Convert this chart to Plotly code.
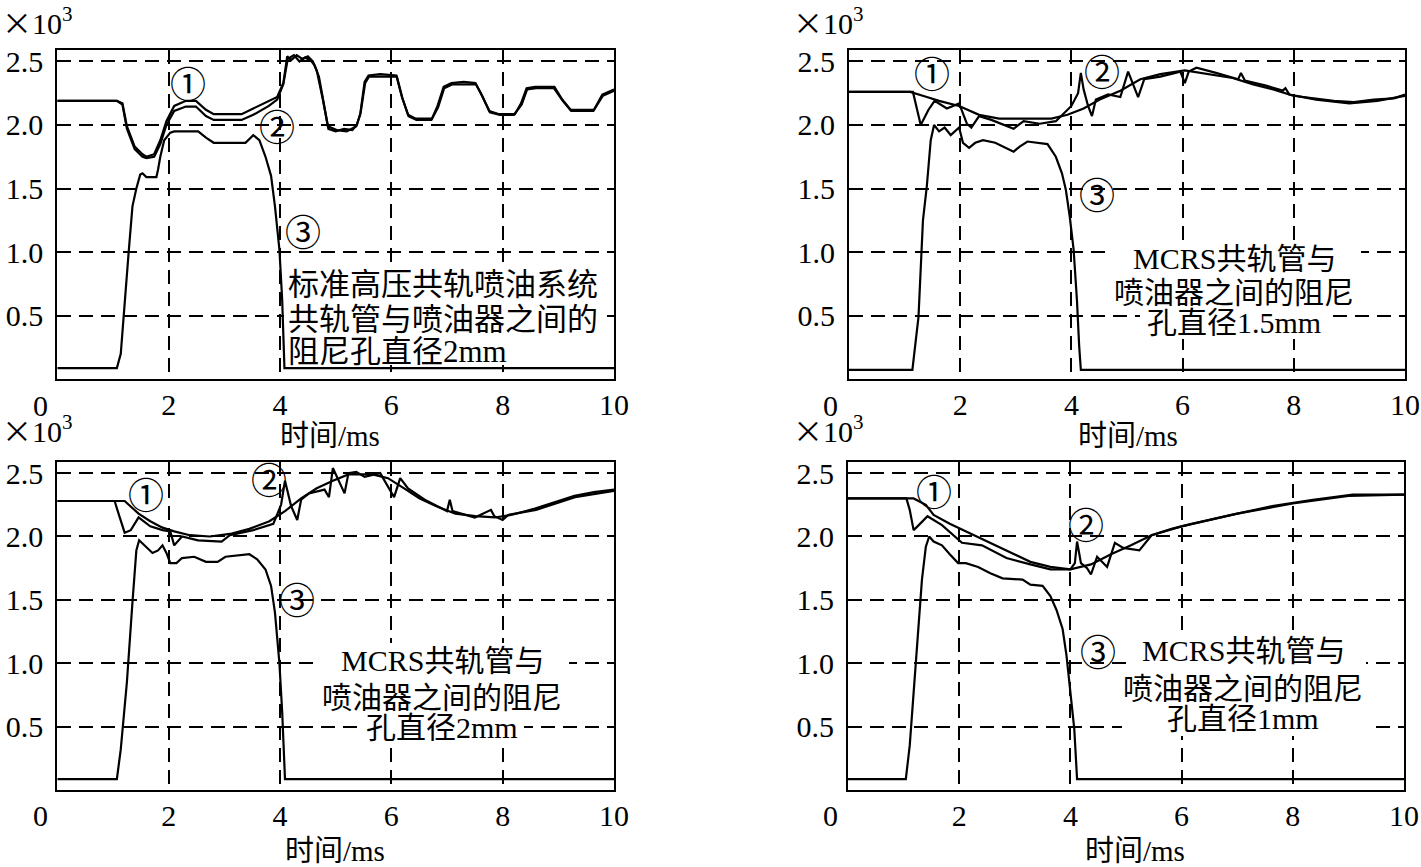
import plotly.graph_objects as go

W, H = 1421, 867

# ---------------- data (pressure ×10^3, time ms) ----------------
# Panel A: standard high-pressure common rail, orifice 2 mm
a1_x = [0, 1.07, 1.17, 1.25, 1.39, 1.53, 1.6, 1.74, 1.85, 1.96, 2.1, 2.31, 2.49, 2.67, 2.81, 3.31, 3.52, 3.8, 3.95,
        4.06, 4.13, 4.2, 4.3, 4.4, 4.5, 4.59, 4.66, 4.77, 4.86, 5.02, 5.2, 5.37, 5.44, 5.52, 5.59, 5.8, 6.09, 6.19,
        6.3, 6.44, 6.73, 6.83, 6.94, 7.08, 7.3, 7.51, 7.62, 7.76, 7.94, 8.22, 8.33, 8.43, 8.58, 8.93, 9.07, 9.22,
        9.64, 9.79, 10]
a1_y = [2.19, 2.19, 2.17, 1.99, 1.83, 1.77, 1.75, 1.77, 1.88, 2.03, 2.15, 2.19, 2.19, 2.12, 2.085, 2.085, 2.13, 2.185,
        2.22, 2.33, 2.54, 2.51, 2.55, 2.52, 2.54, 2.5, 2.43, 2.2, 1.99, 1.96, 1.95, 1.99, 2.08, 2.34, 2.39, 2.40, 2.39,
        2.22, 2.08, 2.05, 2.05, 2.15, 2.3, 2.33, 2.34, 2.33, 2.24, 2.11, 2.085, 2.085, 2.17, 2.29, 2.30, 2.30, 2.2,
        2.12, 2.12, 2.24, 2.28]
a2_x = [0, 1.07, 1.17, 1.25, 1.39, 1.53, 1.6, 1.74, 1.85, 1.96, 2.1, 2.31, 2.49, 2.67, 2.81, 3.31, 3.52, 3.8, 3.95,
        4.06, 4.14, 4.25, 4.35, 4.45, 4.55, 4.62, 4.7, 4.78, 4.87, 5.0, 5.15, 5.3, 5.38, 5.45, 5.53, 5.6, 6.1, 6.2,
        6.31, 6.45, 6.72, 6.84, 6.95, 7.1, 7.52, 7.63, 7.77, 7.95, 8.2, 8.34, 8.44, 8.6, 8.92, 9.08, 9.23, 9.63,
        9.8, 10]
a2_y = [2.19, 2.19, 2.16, 1.97, 1.81, 1.75, 1.74, 1.75, 1.85, 2.0, 2.11, 2.145, 2.145, 2.07, 2.04, 2.04, 2.08, 2.15,
        2.2, 2.32, 2.52, 2.55, 2.5, 2.53, 2.51, 2.47, 2.38, 2.18, 1.97, 1.95, 1.97, 1.96, 2.0, 2.1, 2.33, 2.38, 2.38,
        2.21, 2.07, 2.04, 2.04, 2.14, 2.29, 2.32, 2.32, 2.23, 2.1, 2.08, 2.08, 2.16, 2.28, 2.29, 2.29, 2.19, 2.11,
        2.11, 2.23, 2.27]
a3_x = [0, 1.07, 1.14, 1.21, 1.28, 1.35, 1.42, 1.49, 1.53, 1.6, 1.78, 1.81, 1.85, 1.92, 2.03, 2.1, 2.53, 2.67, 2.81,
        3.38, 3.52, 3.63, 3.74, 3.84, 3.91, 3.99, 4.04, 4.08, 10]
a3_y = [0.087, 0.087, 0.2, 0.62, 0.99, 1.36, 1.5, 1.61, 1.62, 1.59, 1.59, 1.65, 1.75, 1.88, 1.94, 1.95, 1.95, 1.9,
        1.86, 1.86, 1.92, 1.88, 1.75, 1.6, 1.36, 1.02, 0.62, 0.087, 0.087]

# Panel B: MCRS, orifice 1.5 mm
b1_x = [0, 1.1, 1.4, 1.62, 1.98, 2.34, 2.7, 3.28, 3.64, 3.93, 4.22, 4.51, 4.88, 5.24, 5.6, 6.04, 6.18, 6.54, 6.9,
        7.27, 7.63, 7.99, 8.36, 8.72, 9.08, 9.44, 9.8, 10]
b1_y = [2.26, 2.26, 2.22, 2.19, 2.15, 2.08, 2.05, 2.05, 2.05, 2.08, 2.13, 2.2, 2.27, 2.36, 2.4, 2.43, 2.42, 2.4, 2.37,
        2.32, 2.28, 2.23, 2.21, 2.19, 2.18, 2.2, 2.21, 2.24]
b2_x = [0, 1.15, 1.29, 1.43, 1.54, 1.76, 1.98, 2.12, 2.2, 2.34, 2.56, 2.96, 3.14, 3.43, 3.72, 4.0, 4.12, 4.17, 4.22,
        4.3, 4.37, 4.44, 4.66, 4.88, 5.02, 5.09, 5.2, 5.31, 5.6, 5.96, 6.04, 6.11, 6.25, 6.6, 7.0, 7.05, 7.12, 7.5,
        7.8, 7.85, 7.92, 8.4, 9.0, 9.5, 10]
b2_y = [2.26, 2.26, 2.0, 2.12, 2.19, 2.13, 2.17, 2.01, 1.98, 2.07, 2.04, 1.97, 2.03, 2.01, 2.03, 2.15, 2.25, 2.41,
        2.28, 2.15, 2.07, 2.2, 2.24, 2.22, 2.42, 2.34, 2.22, 2.36, 2.38, 2.42, 2.33, 2.42, 2.45, 2.41, 2.36, 2.41,
        2.35, 2.31, 2.27, 2.29, 2.24, 2.2, 2.17, 2.19, 2.23]
b3_x = [0, 1.14, 1.25, 1.33, 1.4, 1.47, 1.53, 1.62, 1.72, 1.83, 1.98, 2.05, 2.16, 2.27, 2.41, 2.63, 2.96, 3.07, 3.21,
        3.57, 3.72, 3.83, 3.9, 3.97, 4.04, 4.1, 4.14, 4.17, 10]
b3_y = [0.073, 0.073, 0.49, 1.25, 1.52, 1.88, 2.0, 1.95, 1.98, 1.92, 1.98, 1.86, 1.82, 1.86, 1.88, 1.86, 1.79, 1.83,
        1.87, 1.85, 1.75, 1.62, 1.49, 1.28, 1.02, 0.62, 0.26, 0.073, 0.073]

# Panel C: MCRS, orifice 2 mm
c1_x = [0, 1.21, 1.46, 1.67, 1.89, 2.1, 2.38, 2.74, 3.1, 3.45, 3.81, 4.09, 4.38, 4.66, 4.95, 5.23, 5.66, 5.94, 6.23,
        6.51, 6.8, 7.15, 7.51, 7.86, 8.15, 8.58, 8.93, 9.29, 9.64, 10]
c1_y = [2.28, 2.28, 2.18, 2.12, 2.07, 2.04, 2.01, 2.0, 2.02, 2.06, 2.12, 2.2, 2.3, 2.38, 2.44, 2.49, 2.49, 2.46, 2.38,
        2.3, 2.24, 2.18, 2.16, 2.15, 2.17, 2.22, 2.27, 2.32, 2.35, 2.37]
c2_x = [0, 1.03, 1.1, 1.21, 1.32, 1.46, 1.67, 1.89, 2.03, 2.1, 2.24, 2.53, 2.95, 3.1, 3.52, 3.88, 4.02, 4.09, 4.2,
        4.31, 4.38, 4.52, 4.8, 4.88, 4.95, 5.02, 5.16, 5.23, 5.37, 5.52, 5.8, 6.05, 6.16, 6.3, 6.6, 7.0, 7.05, 7.1,
        7.5, 7.79, 7.85, 8.0, 8.1, 8.6, 9.3, 10]
c2_y = [2.28, 2.28, 2.18, 2.03, 2.05, 2.15, 2.08, 2.05, 2.04, 1.93, 2.0, 1.97, 1.96, 2.01, 2.05, 2.1, 2.25, 2.44,
        2.24, 2.13, 2.29, 2.34, 2.37, 2.31, 2.54, 2.47, 2.34, 2.5, 2.51, 2.47, 2.5, 2.31, 2.46, 2.38, 2.29, 2.2,
        2.29, 2.2, 2.15, 2.21, 2.16, 2.13, 2.17, 2.21, 2.31, 2.36]
c3_x = [0, 1.07, 1.14, 1.25, 1.35, 1.42, 1.47, 1.57, 1.71, 1.81, 1.89, 1.96, 2.03, 2.14, 2.24, 2.46, 2.67, 2.88,
        3.02, 3.45, 3.59, 3.74, 3.84, 3.91, 3.99, 4.04, 4.09, 10]
c3_y = [0.086, 0.086, 0.32, 0.85, 1.48, 1.89, 1.97, 1.93, 1.87, 1.89, 1.93, 1.87, 1.79, 1.79, 1.83, 1.84, 1.8, 1.8,
        1.84, 1.86, 1.82, 1.74, 1.61, 1.4, 1.0, 0.61, 0.086, 0.086]

# Panel D: MCRS, orifice 1 mm
d1_x = [0, 1.18, 1.4, 1.54, 1.83, 2.12, 2.56, 2.92, 3.28, 3.64, 4.0, 4.37, 4.73, 5.09, 5.46, 5.82, 6.18, 6.9, 7.63,
        8.36, 9.08, 10]
d1_y = [2.3, 2.3, 2.25, 2.17, 2.1, 2.04, 1.95, 1.87, 1.8, 1.76, 1.74, 1.78, 1.86, 1.93, 2.01, 2.06, 2.1, 2.17, 2.24,
        2.29, 2.33, 2.33]
d2_x = [0, 1.05, 1.11, 1.18, 1.25, 1.43, 1.69, 1.91, 2.05, 2.41, 2.85, 3.28, 3.64, 4.0, 4.08, 4.12, 4.19, 4.3, 4.37,
        4.48, 4.66, 4.8, 4.95, 5.24, 5.46, 6.0, 7.0, 8.0, 9.0, 10]
d2_y = [2.3, 2.3, 2.21, 2.05, 2.08, 2.16, 2.09, 2.0, 1.95, 1.93, 1.83, 1.78, 1.74, 1.74, 1.79, 1.96, 1.79, 1.75, 1.7,
        1.84, 1.76, 1.95, 1.91, 1.89, 2.01, 2.08, 2.18, 2.26, 2.32, 2.33]
d3_x = [0, 1.04, 1.11, 1.22, 1.33, 1.4, 1.46, 1.54, 1.69, 1.83, 1.98, 2.12, 2.34, 2.56, 2.78, 3.14, 3.28, 3.5, 3.64,
        3.75, 3.86, 3.93, 4.0, 4.07, 4.12, 10]
d3_y = [0.086, 0.086, 0.35, 1.0, 1.66, 1.92, 2.0, 1.96, 1.93, 1.86, 1.79, 1.79, 1.76, 1.71, 1.67, 1.66, 1.62, 1.61,
        1.53, 1.42, 1.27, 1.06, 0.79, 0.48, 0.086, 0.086]

x_ticks = [2, 4, 6, 8, 10]
y_ticks = [0.5, 1.0, 1.5, 2.0, 2.5]
y_ticktext = ["0.5", "1.0", "1.5", "2.0", "2.5"]
x_title = "时间/ms"
scale_label = "<span style='font-family:Noto Sans CJK SC'>×</span>10<sup>3</sup>"
texts_a = ["标准高压共轨喷油系统", "共轨管与喷油器之间的", "阻尼孔直径2mm"]
texts_b = ["MCRS共轨管与", "喷油器之间的阻尼", "孔直径1.5mm"]
texts_c = ["MCRS共轨管与", "喷油器之间的阻尼", "孔直径2mm"]
texts_d = ["MCRS共轨管与", "喷油器之间的阻尼", "孔直径1mm"]
marks = ["①", "②", "③"]

# ---------------- layout geometry (pixels of the 1421x867 picture) ----------------
panels = {
    "A": dict(px=(57.3, 614.0, 50.0, 379.2), ax=("x", "y")),
    "B": dict(px=(849.0, 1405.0, 50.0, 379.2), ax=("x2", "y2")),
    "C": dict(px=(57.3, 614.0, 461.7, 790.0), ax=("x3", "y3")),
    "D": dict(px=(848.0, 1404.0, 461.7, 790.0), ax=("x4", "y4")),
}
YMAX = 2.59

def px2dx(p, key):
    l, r, t, b = panels[key]["px"]
    return (p - l) / (r - l) * 10.0

def py2dy(p, key):
    l, r, t, b = panels[key]["px"]
    return (b - p) / (b - t) * YMAX

SERIF = "Liberation Serif"
MIX = "Liberation Serif, Noto Sans CJK SC"
CIRC = "Noto Sans CJK SC"

fig = go.Figure()
series = {
    "A": [(a1_x, a1_y), (a2_x, a2_y), (a3_x, a3_y)],
    "B": [(b1_x, b1_y), (b2_x, b2_y), (b3_x, b3_y)],
    "C": [(c1_x, c1_y), (c2_x, c2_y), (c3_x, c3_y)],
    "D": [(d1_x, d1_y), (d2_x, d2_y), (d3_x, d3_y)],
}
for key, lst in series.items():
    xa, ya = panels[key]["ax"]
    for xs, ys in lst:
        fig.add_trace(go.Scatter(x=xs, y=ys, mode="lines", xaxis=xa, yaxis=ya,
                                 line=dict(color="black", width=2.2), hoverinfo="skip"))

axis_common = dict(showline=True, mirror=True, linecolor="black", linewidth=2,
                   showgrid=True, gridcolor="black", gridwidth=1.5, griddash="14px,8px",
                   zeroline=False, ticks="", fixedrange=True,
                   tickfont=dict(family=SERIF, size=30, color="black"))
lay = {}
for i, key in enumerate(["A", "B", "C", "D"]):
    l, r, t, b = panels[key]["px"]
    sfx = "" if i == 0 else str(i + 1)
    lay["xaxis" + sfx] = dict(axis_common, domain=[l / W, r / W], range=[0, 10],
                              anchor="y" + sfx, tickvals=x_ticks, ticklabelstandoff=-2)
    lay["yaxis" + sfx] = dict(axis_common, domain=[1 - b / H, 1 - t / H], range=[0, YMAX],
                              anchor="x" + sfx, tickvals=y_ticks, ticktext=y_ticktext,
                              ticklabelstandoff=6)

annotations = []
shapes = []

def ann_px(text, x, y, size=30, family=SERIF, xanchor="center", yanchor="middle"):
    annotations.append(dict(text=text, x=x / W, y=1 - y / H, xref="paper", yref="paper",
                            showarrow=False, xanchor=xanchor, yanchor=yanchor,
                            font=dict(family=family, size=size, color="black")))

def white_rect(key, x0, x1, y0, y1):
    xa, ya = panels[key]["ax"]
    shapes.append(dict(type="rect", xref=xa, yref=ya, layer="between",
                       x0=px2dx(x0, key), x1=px2dx(x1, key), y0=py2dy(y1, key), y1=py2dy(y0, key),
                       fillcolor="white", line=dict(width=0)))

# scale labels, x-origin labels and axis titles
for x0, yy in [(0, 21), (791, 21), (0, 429), (791, 429)]:
    ann_px(scale_label, x0, yy, size=30, xanchor="left")
for x0, yy in [(40, 405), (830, 405), (40, 815), (830, 815)]:
    ann_px("0", x0, yy, size=30)
for x0, yy in [(330, 436), (1128, 436), (335, 851), (1135, 851)]:
    ann_px(x_title, x0, yy, size=29, family=MIX)

# curve markers
mark_pos = {
    "A": [(188, 82), (277, 125), (303, 230)],
    "B": [(932, 72), (1102, 70), (1097, 193)],
    "C": [(146, 493), (269, 478), (297, 598)],
    "D": [(934, 490), (1086, 523), (1098, 650)],
}
for key, pos in mark_pos.items():
    for m, (x0, y0) in zip(marks, pos):
        ann_px(m, x0, y0, size=36, family=CIRC)

# descriptive text (line by line) + white backgrounds
white_rect("A", 284, 605, 268, 365)
for t, yy in zip(texts_a, [285, 319, 352]):
    ann_px(t, 286, yy, size=31, family=MIX, xanchor="left")

for key, texts, cx, ys, boxes in [
    ("B", texts_b, 1234, [258, 292, 322], [(1108, 1361, 241, 275), (1108, 1361, 275, 308), (1140, 1329, 306, 339)]),
    ("C", texts_c, 442, [660, 697, 727], [(314, 569, 643, 680), (314, 569, 680, 713), (360, 524, 712, 742)]),
    ("D", texts_d, 1243, [650, 688, 718], [(1128, 1366, 633, 670), (1116, 1371, 670, 704), (1122, 1370, 704, 736)]),
]:
    for (x0, x1, y0, y1) in boxes:
        white_rect(key, x0, x1, y0, y1)
    for t, yy in zip(texts, ys):
        ann_px(t, cx, yy, size=30, family=MIX)

fig.update_layout(**lay)
fig.update_layout(autosize=True, margin=dict(l=0, r=0, t=0, b=0, autoexpand=False),
                  paper_bgcolor="white", plot_bgcolor="white", showlegend=False,
                  annotations=annotations, shapes=shapes)
fig.write_html(
    "out.html",
    config={"displayModeBar": False, "responsive": True},
    default_width="100vw",
    default_height="100vh",
    post_script=("document.body.style.margin='0px';document.body.style.overflow='hidden';"
                 "var gd=document.getElementById('{plot_id}');Plotly.Plots.resize(gd);"),
)
